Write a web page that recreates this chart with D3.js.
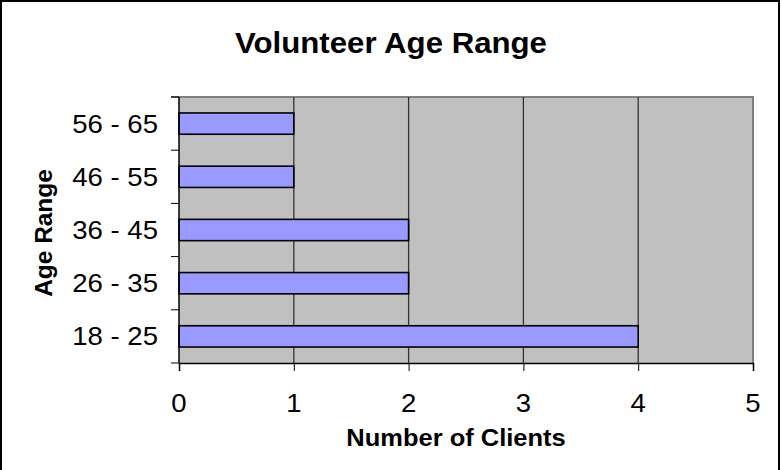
<!DOCTYPE html>
<html>
<head>
<meta charset="utf-8">
<script src="https://cdn.jsdelivr.net/npm/d3@7"></script>
<style>
  body { margin: 0; background: #fff }
  text { font-family: Arial, "Liberation Sans", sans-serif; fill: #000 }
</style>
</head>
<body>
<div id="chart"></div>
<script>
var categories = ["18 - 25", "26 - 35", "36 - 45", "46 - 55", "56 - 65"]
var clients = [4, 2, 2, 1, 1]
var xTicks = [0, 1, 2, 3, 4, 5]

var width = 782, height = 470
var plot = { left: 179, top: 97, right: 753, bottom: 363 }
var stretch = 1.04

var svg = d3.select("#chart").append("svg")
  .attr("width", width)
  .attr("height", height)

// outer frame
svg.append("rect")
  .attr("x", 1).attr("y", 1)
  .attr("width", 778).attr("height", 474)
  .attr("fill", "#fff")
  .attr("stroke", "#000")
  .attr("stroke-width", 2)

var x = d3.scaleLinear().domain([0, 5]).range([plot.left, plot.right])
var y = d3.scaleBand()
  .domain(categories.slice().reverse())
  .range([plot.top, plot.bottom])
  .paddingInner(0.6)
  .paddingOuter(0.3)

function label(sel, px, py, size, bold, anchor) {
  return sel.append("text")
    .attr("transform", "translate(" + px + "," + py + ") scale(" + stretch + ",1)")
    .attr("text-anchor", anchor || "middle")
    .attr("font-size", size)
    .attr("font-weight", bold ? "bold" : "normal")
}

// plot background
svg.append("rect")
  .attr("x", plot.left).attr("y", plot.top)
  .attr("width", plot.right - plot.left)
  .attr("height", plot.bottom - plot.top)
  .attr("fill", "#c0c0c0")

// top + right border
svg.append("path")
  .attr("d", "M" + plot.left + "," + plot.top + "H" + plot.right + "V" + plot.bottom)
  .attr("fill", "none")
  .attr("stroke", "#808080")
  .attr("stroke-width", 2)

// vertical gridlines
svg.append("g").selectAll("line")
  .data(xTicks.slice(1, -1))
  .join("line")
  .attr("x1", d => x(d)).attr("x2", d => x(d))
  .attr("y1", plot.top).attr("y2", plot.bottom)
  .attr("stroke", "#333")
  .attr("stroke-width", 1.3)

// bars
svg.append("g").selectAll("rect")
  .data(categories)
  .join("rect")
  .attr("x", x(0))
  .attr("y", d => y(d))
  .attr("width", (d, i) => x(clients[i]) - x(0))
  .attr("height", y.bandwidth())
  .attr("fill", "#9999ff")
  .attr("stroke", "#000")
  .attr("stroke-width", 1.6)

// x axis
var xAxis = svg.append("g")
  .attr("transform", "translate(0," + plot.bottom + ")")
  .call(d3.axisBottom(x).tickValues(xTicks).tickSize(8).tickFormat(""))
xAxis.select(".domain").attr("stroke", "#000").attr("stroke-width", 1.5)
xAxis.selectAll(".tick line").attr("stroke", "#000")
xTicks.forEach(function(t) {
  label(svg, x(t), 412, 26.5, false).text(t)
})

// y axis with ticks at band boundaries
var bounds = categories.map(d => y(d) - y.step() * y.paddingInner() / 2)
bounds.push(plot.top, plot.bottom)
svg.append("line")
  .attr("x1", plot.left).attr("x2", plot.left)
  .attr("y1", plot.top).attr("y2", plot.bottom)
  .attr("stroke", "#000").attr("stroke-width", 1.5)
svg.append("g").selectAll("line")
  .data(bounds)
  .join("line")
  .attr("x1", plot.left - 8).attr("x2", plot.left)
  .attr("y1", d => d).attr("y2", d => d)
  .attr("stroke", "#000")
categories.forEach(function(c) {
  label(svg, 158, y(c) + y.bandwidth() / 2 + 9, 26.5, false, "end").text(c)
})

// titles
label(svg, 391, 53, 30, true).text("Volunteer Age Range")
label(svg, 456, 446, 24.5, true).text("Number of Clients")
svg.append("text")
  .attr("transform", "translate(52,233) rotate(-90) scale(" + stretch + ",1)")
  .attr("text-anchor", "middle")
  .attr("font-size", 23.5)
  .attr("font-weight", "bold")
  .text("Age Range")
</script>
</body>
</html>
